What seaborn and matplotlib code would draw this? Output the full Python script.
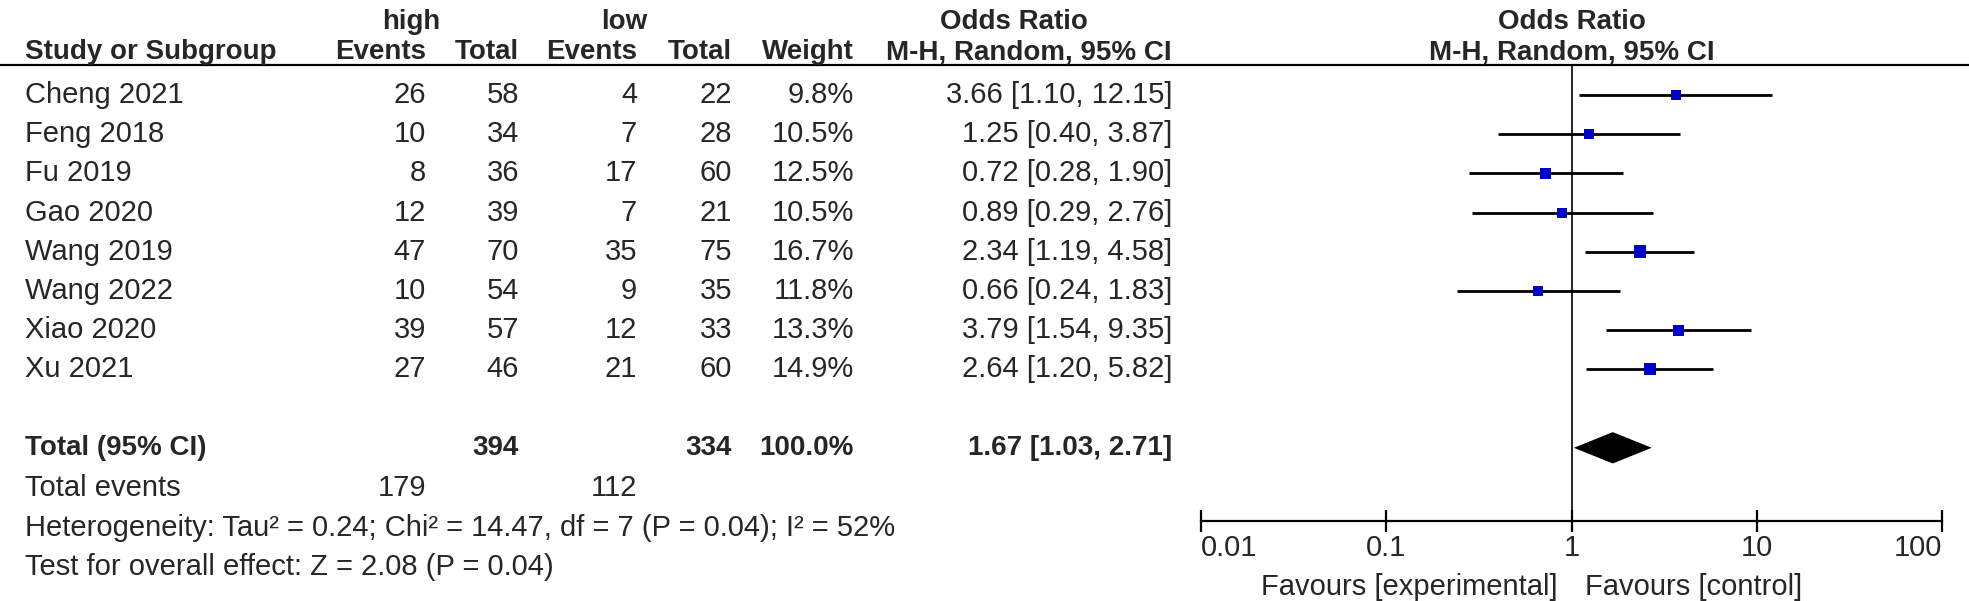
import numpy as np
import pandas as pd
import matplotlib
matplotlib.use("Agg")
import matplotlib.pyplot as plt
from matplotlib.ticker import NullLocator
import seaborn as sns

# ---------------- data ----------------
studies = ["Cheng 2021", "Feng 2018", "Fu 2019", "Gao 2020",
           "Wang 2019", "Wang 2022", "Xiao 2020", "Xu 2021"]
high_events = [26, 10, 8, 12, 47, 10, 39, 27]
high_total = [58, 34, 36, 39, 70, 54, 57, 46]
low_events = [4, 7, 17, 7, 35, 9, 12, 21]
low_total = [22, 28, 60, 21, 75, 35, 33, 60]
weights = [9.8, 10.5, 12.5, 10.5, 16.7, 11.8, 13.3, 14.9]
odds = [3.66, 1.25, 0.72, 0.89, 2.34, 0.66, 3.79, 2.64]
ci_low = [1.10, 0.40, 0.28, 0.29, 1.19, 0.24, 1.54, 1.20]
ci_high = [12.15, 3.87, 1.90, 2.76, 4.58, 1.83, 9.35, 5.82]

total_high = 394
total_low = 334
total_weight = "100.0%"
pooled_or = 1.67
pooled_low = 1.03
pooled_high = 2.71
events_high_sum = 179
events_low_sum = 112
heterogeneity = "Heterogeneity: Tau\u00b2 = 0.24; Chi\u00b2 = 14.47, df = 7 (P = 0.04); I\u00b2 = 52%"
overall = "Test for overall effect: Z = 2.08 (P = 0.04)"
tick_values = [0.01, 0.1, 1, 10, 100]
tick_labels = ["0.01", "0.1", "1", "10", "100"]
favour_left = "Favours [experimental]"
favour_right = "Favours [control]"

# ---------------- style ----------------
sns.set_style("white")
plt.rcParams["font.family"] = ["Liberation Sans", "DejaVu Sans"]
FS = 21      # regular text
FSB = 20     # bold text

W, H = 1969, 601
fig = plt.figure(figsize=(W / 100, H / 100), dpi=100)

# table axes in pixel coordinates
tab = fig.add_axes([0, 0, 1, 1])
tab.set_xlim(0, W)
tab.set_ylim(H, 0)
tab.axis("off")

ROW0, ROWH = 95, 39.2
def row_y(i):
    return ROW0 + ROWH * i

COL_STUDY = 25
COL_E1, COL_T1, COL_E2, COL_T2, COL_W, COL_OR = 426, 519, 637, 732, 854, 1172
X_ONE = 1572

def bold(x, y, s, ha):
    tab.text(x, y, s, ha=ha, va="center", fontsize=FSB, fontweight="bold")

def reg(x, y, s, ha):
    tab.text(x, y, s, ha=ha, va="center", fontsize=FS)

# headers
bold(411, 22, "high", "center")
bold(624, 22, "low", "center")
bold(1014, 22, "Odds Ratio", "center")
bold(X_ONE, 22, "Odds Ratio", "center")
hy = 52
bold(COL_STUDY, hy, "Study or Subgroup", "left")
for x, lab in [(COL_E1, "Events"), (COL_T1, "Total"), (COL_E2, "Events"),
               (COL_T2, "Total"), (COL_W, "Weight"), (COL_OR, "M-H, Random, 95% CI")]:
    bold(x, hy, lab, "right")
bold(X_ONE, hy, "M-H, Random, 95% CI", "center")
tab.plot([0, W], [65, 65], color="black", lw=1.6, solid_capstyle="butt")

# study rows
for i, name in enumerate(studies):
    y = row_y(i)
    reg(COL_STUDY, y, name, "left")
    reg(COL_E1, y, str(high_events[i]), "right")
    reg(COL_T1, y, str(high_total[i]), "right")
    reg(COL_E2, y, str(low_events[i]), "right")
    reg(COL_T2, y, str(low_total[i]), "right")
    reg(COL_W, y, f"{weights[i]:.1f}%", "right")
    reg(COL_OR, y, f"{odds[i]:.2f} [{ci_low[i]:.2f}, {ci_high[i]:.2f}]", "right")

TOTAL_ROW = 9.0
yt = row_y(TOTAL_ROW)
bold(COL_STUDY, yt, "Total (95% CI)", "left")
bold(COL_T1, yt, str(total_high), "right")
bold(COL_T2, yt, str(total_low), "right")
bold(COL_W, yt, total_weight, "right")
bold(COL_OR, yt, f"{pooled_or:.2f} [{pooled_low:.2f}, {pooled_high:.2f}]", "right")
reg(COL_STUDY, 488, "Total events", "left")
reg(COL_E1, 488, str(events_high_sum), "right")
reg(COL_E2, 488, str(events_low_sum), "right")
reg(COL_STUDY, 528, heterogeneity, "left")
reg(COL_STUDY, 567, overall, "left")
reg(1558, 587, favour_left, "right")
reg(1585, 587, favour_right, "left")

# ---------------- forest axes ----------------
AX_L, AX_R, AX_TOP, AX_BOT = 1201, 1942, 65, 521
fax = fig.add_axes([AX_L / W, (H - AX_BOT) / H, (AX_R - AX_L) / W, (AX_BOT - AX_TOP) / H])
fax.patch.set_alpha(0)
fax.set_xscale("log")
fax.set_xlim(0.01, 100)
y_bot = (AX_BOT - ROW0) / ROWH
y_top = (AX_TOP - ROW0) / ROWH
fax.set_ylim(y_bot, y_top)

df = pd.DataFrame({"study": studies, "odds": odds, "lo": ci_low, "hi": ci_high,
                   "weight": weights, "row": np.arange(len(studies))})

fax.axvline(1, color="black", lw=1.2, zorder=1)
fax.hlines(df["row"], df["lo"], df["hi"], color="black", lw=2.0, zorder=2)
k = (0.72 * 3.1) ** 2
sns.scatterplot(data=df, x="odds", y="row", size="weight",
                sizes=(k * min(weights), k * max(weights)),
                size_norm=(min(weights), max(weights)),
                marker="s", color="#0000CC", edgecolor="#0000CC", linewidth=0,
                legend=False, ax=fax, zorder=3)

dh = 0.40
fax.fill([pooled_low, pooled_or, pooled_high, pooled_or],
         [TOTAL_ROW, TOTAL_ROW - dh, TOTAL_ROW, TOTAL_ROW + dh],
         color="black", lw=0, zorder=3)

for s in ["top", "left", "right"]:
    fax.spines[s].set_visible(False)
fax.spines["bottom"].set_linewidth(1.6)
fax.spines["bottom"].set_color("black")
fax.set_yticks([])
fax.set_xlabel("")
fax.set_ylabel("")
fax.set_xticks(tick_values)
fax.xaxis.set_minor_locator(NullLocator())
fax.set_xticklabels(tick_labels, fontsize=FS)
fax.tick_params(axis="x", direction="inout", length=16, width=1.6, color="black", pad=1,
                bottom=True)
lbls = fax.get_xticklabels()
lbls[0].set_ha("left")
lbls[-1].set_ha("right")

fig.savefig("out.png", dpi=100)
